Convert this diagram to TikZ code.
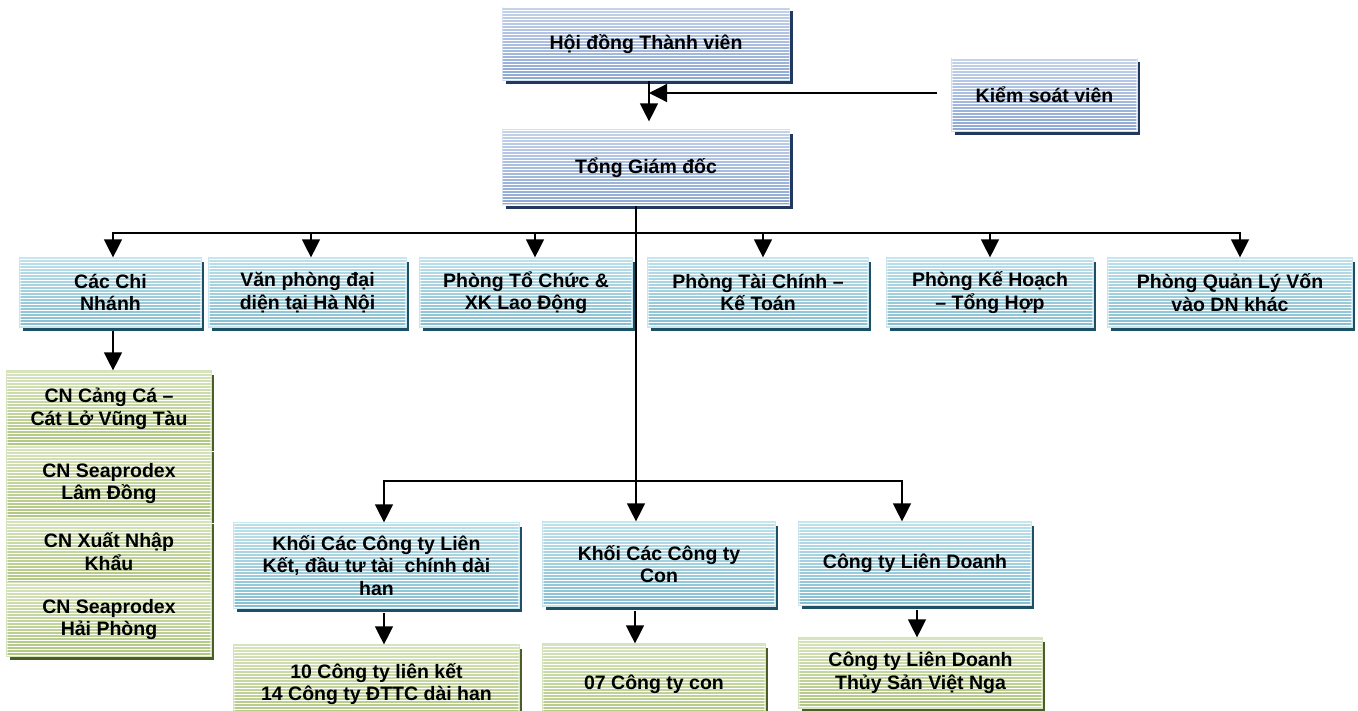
\documentclass[tikz,border=0pt]{standalone}
\usepackage{fontspec}
\setmainfont{Liberation Sans}
\usetikzlibrary{arrows.meta,shadows,patterns}
\definecolor{blueA}{HTML}{C4D2EA}
\definecolor{blueB}{HTML}{8DA8D4}
\definecolor{blueE}{HTML}{D3DEF0}
\definecolor{blueS}{HTML}{22395F}
\definecolor{tealA}{HTML}{BCE0EA}
\definecolor{tealB}{HTML}{86BFD1}
\definecolor{tealE}{HTML}{C9E6EF}
\definecolor{tealS}{HTML}{1D5064}
\definecolor{greenA}{HTML}{D6E4BB}
\definecolor{greenB}{HTML}{AFC67F}
\definecolor{greenE}{HTML}{D6E3BD}
\definecolor{greenS}{HTML}{4B5E25}
\tikzset{
  x=1pt, y=-1pt,
  orgbox/.style={draw=#1E, line width=1.2pt, top color=#1A, bottom color=#1B,
    text=black, font=\bfseries\fontsize{19.5}{22.5}\selectfont, align=center,
    inner sep=0pt,
    drop shadow={shadow xshift=3pt, shadow yshift=-3.5pt, opacity=1, fill=#1S},
    postaction={pattern=horizontal lines, pattern color=white, fill opacity=.2}},
  conn/.style={line width=1.3pt, draw=black},
  arr/.style={conn, -{Triangle[length=18pt,width=18pt]}},
}
\begin{document}
\begin{tikzpicture}
\useasboundingbox (0,0) rectangle (1358,710);
\clip (0,0) rectangle (1358,710);
% top level
\node[orgbox=blue, minimum width=287pt, minimum height=73pt] (hdtv) at (646,44) {Hội đồng Thành viên};
\node[orgbox=blue, minimum width=185pt, minimum height=73pt] (ksv) at (1044.5,95) {Kiểm soát viên};
\node[orgbox=blue, minimum width=287pt, minimum height=75pt] (tgd) at (646,167.5) {Tổng Giám đốc};
% row 2
\node[orgbox=teal, minimum width=181pt, minimum height=69pt] (ccn) at (110.5,292.5) {Các Chi\\Nhánh};
\node[orgbox=teal, minimum width=197pt, minimum height=69pt] (vp) at (307.5,292.5) {Văn phòng đại\\diện tại Hà Nội};
\node[orgbox=teal, minimum width=212pt, minimum height=69pt] (ptc) at (526,292.5) {Phòng Tổ Chức \&\\XK Lao Động};
\node[orgbox=teal, minimum width=220pt, minimum height=69pt] (ptck) at (758,292.5) {Phòng Tài Chính –\\Kế Toán};
\node[orgbox=teal, minimum width=206pt, minimum height=69pt] (pkh) at (990,292.5) {Phòng Kế Hoạch\\– Tổng Hợp};
\node[orgbox=teal, minimum width=244pt, minimum height=69pt] (pql) at (1230,292.5) {Phòng Quản Lý Vốn\\vào DN khác};
% branch stack
\node[orgbox=green, minimum width=204pt, minimum height=76pt] (s1) at (109,409) {CN Cảng Cá –\\Cát Lở Vũng Tàu};
\node[orgbox=green, minimum width=204pt, minimum height=71pt] (s2) at (109,483.5) {CN Seaprodex\\Lâm Đồng};
\node[orgbox=green, minimum width=204pt, minimum height=63pt] (s3) at (109,551.5) {CN Xuất Nhập\\Khẩu};
\node[orgbox=green, minimum width=204pt, minimum height=73pt] (s4) at (109,619.5) {CN Seaprodex\\Hải Phòng};
% row 3
\node[orgbox=teal, minimum width=285pt, minimum height=85pt] (klk) at (376.5,565.5) {Khối Các Công ty Liên\\Kết, đầu tư tài\ \ chính dài\\han};
\node[orgbox=teal, minimum width=232pt, minimum height=84pt] (kcon) at (659,564) {Khối Các Công ty\\Con};
\node[orgbox=teal, minimum width=232pt, minimum height=83pt] (cld) at (915,563.5) {Công ty Liên Doanh};
% row 4
\node[orgbox=green, minimum width=285pt, minimum height=78pt] (g1) at (376.5,684) {10 Công ty liên kết\\14 Công ty ĐTTC dài han};
\node[orgbox=green, minimum width=222pt, minimum height=80pt] (g2) at (654,684) {07 Công ty con};
\node[orgbox=green, minimum width=243pt, minimum height=70pt] (g3) at (920.5,673) {Công ty Liên Doanh\\Thủy Sản Việt Nga};
% connectors
\coordinate (m) at (649,93);
\coordinate (jU) at (636,233);
\coordinate (jL) at (636,481);
\draw[arr] ([xshift=3pt]hdtv.south) -- ([xshift=3pt,yshift=8pt]tgd.north);
\draw[arr] ([xshift=-14pt,yshift=2pt]ksv.west) -- (m);
\draw[conn] ([xshift=-10pt]tgd.south) -- (jL);
\draw[arr] (jU) -| ([xshift=2.5pt]ccn.north);
\draw[arr] (jU) -| ([xshift=3.5pt]vp.north);
\draw[arr] (jU) -| ([xshift=9pt]ptc.north);
\draw[arr] (jU) -| ([xshift=5pt]ptck.north);
\draw[arr] (jU) -| (pkh.north);
\draw[arr] (jU) -| ([xshift=10pt]pql.north);
\draw[arr] ([xshift=2.5pt,yshift=-3pt]ccn.south) -- ([xshift=2.5pt]ccn.south |- s1.north);
\draw[arr] (jL) -| ([xshift=7.5pt]klk.north);
\draw[arr] (jL) -- (jL |- kcon.north);
\draw[arr] (jL) -| ([xshift=-13pt]cld.north);
\draw[arr] ([xshift=7.5pt,yshift=-4pt]klk.south) -- ([xshift=7.5pt]klk.south |- g1.north);
\draw[arr] ([xshift=-24pt,yshift=-4pt]kcon.south) -- ([xshift=-24pt]kcon.south |- g2.north);
\draw[arr] ([xshift=2pt,yshift=-4pt]cld.south) -- ([xshift=2pt]cld.south |- g3.north);
\end{tikzpicture}
\end{document}
